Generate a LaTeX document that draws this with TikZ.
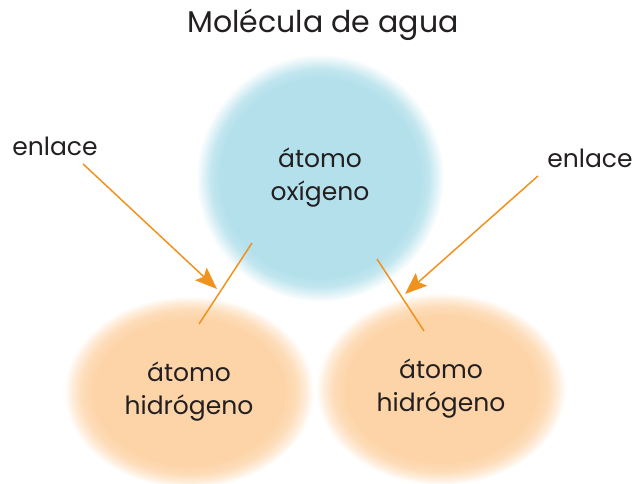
\documentclass[tikz,border=0pt]{standalone}
\usepackage{fontspec}
\setmainfont{Poppins}
\usepackage{tikz}
\usetikzlibrary{arrows.meta,shapes.geometric}

\definecolor{oxyblue}{HTML}{B3E0EB}
\definecolor{hydpeach}{HTML}{FDD4A8}
\definecolor{bondorange}{HTML}{F0921E}
\definecolor{txtgray}{HTML}{231F20}

% soft edged fills
\pgfdeclareradialshading{oxyglow}{\pgfpoint{0bp}{0bp}}{color(0bp)=(oxyblue); color(20bp)=(oxyblue); color(22bp)=(oxyblue!80!white); color(23.5bp)=(oxyblue!40!white); color(25bp)=(white); color(50bp)=(white)}
\pgfdeclareradialshading{hydglow}{\pgfpoint{0bp}{0bp}}{color(0bp)=(hydpeach); color(19bp)=(hydpeach); color(21.5bp)=(hydpeach!80!white); color(23.5bp)=(hydpeach!40!white); color(25bp)=(white); color(50bp)=(white)}

\tikzset{
	atom/.style={align=center,text=txtgray,font=\fontsize{25}{33}\selectfont},
	label/.style={text=txtgray,font=\fontsize{25}{30}\selectfont},
	bond/.style={draw=bondorange,line width=1.5pt},
	pointer/.style={draw=bondorange,line width=1.5pt,-{Stealth[length=22pt,width=17pt,inset=4pt]}}
}

\begin{document}
\begin{tikzpicture}[x=1pt,y=-1pt]
		\useasboundingbox (0,0) rectangle (638,483);
		\node[label,font=\fontsize{30}{36}\selectfont] (Title) at (323,25) {Molécula de agua};
		\node[atom,circle,minimum size=248pt,shading=oxyglow] (Oxy) at (320,178) {átomo\\oxígeno};
		\node[atom,ellipse,minimum width=250pt,minimum height=192pt,shading=hydglow] (HydL) at (189,392) {átomo\\hidrógeno};
		\node[atom,ellipse,minimum width=250pt,minimum height=192pt,shading=hydglow] (HydR) at (441,389) {átomo\\hidrógeno};
		\node[label] (EnlL) at (55,146) {enlace};
		\node[label] (EnlR) at (590,158) {enlace};
		\coordinate (BondLa) at (252,243);
		\coordinate (BondLb) at (199,324);
		\coordinate (BondRa) at (377,259);
		\coordinate (BondRb) at (424,331);
		\coordinate (TipL) at (217,289);
		\coordinate (TipR) at (405,294);
		\draw[bond] (BondLa) -- (BondLb);
		\draw[bond] (BondRa) -- (BondRb);
		\draw[pointer] (EnlL.south) ++(28,5) -- (TipL);
		\draw[pointer] (EnlR.south) ++(-52,5) -- (TipR);
	\end{tikzpicture}
\end{document}
